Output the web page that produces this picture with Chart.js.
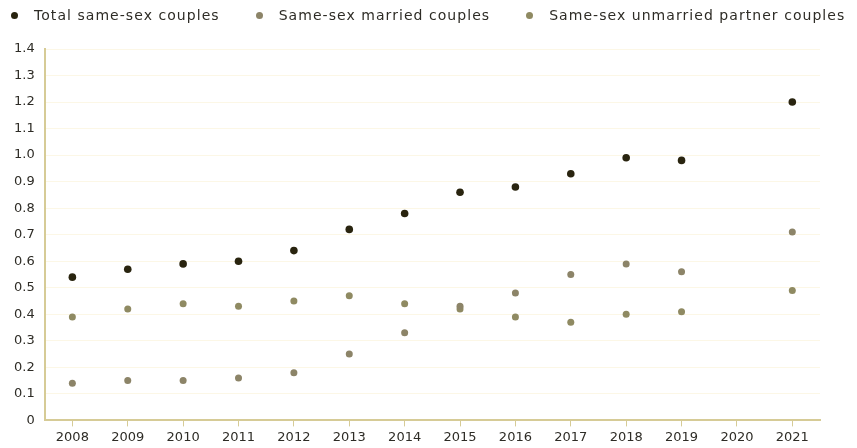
<!DOCTYPE html>
<html>
<head>
<meta charset="utf-8">
<script src="https://cdn.jsdelivr.net/npm/chart.js@4.4.1/dist/chart.umd.min.js"></script>
<style>
  html, body { margin: 0; padding: 0; background: #fff; }
  #wrap { position: relative; width: 857px; height: 448px; overflow: hidden; }
  #legend { position: absolute; left: 11px; top: 6px; width: 900px; display: flex; white-space: nowrap; font: 14px "DejaVu Sans", sans-serif; letter-spacing: 1.05px; color: #2e2c26; }
  #legend .item { display: flex; flex-shrink: 0; align-items: center; margin-right: 36px; height: 18px; }
  #legend .dot { width: 7px; height: 7px; border-radius: 50%; margin-right: 16px; }
</style>
</head>
<body>
<div id="wrap">
  <div id="legend"></div>
  <canvas id="couples"></canvas>
</div>
<script>
var years = ['2008', '2009', '2010', '2011', '2012', '2013', '2014', '2015', '2016', '2017', '2018', '2019', '2020', '2021'];
var totalCouples = [0.54, 0.57, 0.59, 0.60, 0.64, 0.72, 0.78, 0.86, 0.88, 0.93, 0.99, 0.98, null, 1.20];
var marriedCouples = [0.14, 0.15, 0.15, 0.16, 0.18, 0.25, 0.33, 0.43, 0.48, 0.55, 0.59, 0.56, null, 0.71];
var unmarriedCouples = [0.39, 0.42, 0.44, 0.43, 0.45, 0.47, 0.44, 0.42, 0.39, 0.37, 0.40, 0.41, null, 0.49];

var fontFamily = '"DejaVu Sans", sans-serif';
var textColor = '#2e2c26';
var axisColor = '#d6cb96';

function dots(label, values, color, radius) {
    return {
        label: label,
        data: values,
        showLine: false,
        backgroundColor: color,
        borderColor: color,
        pointRadius: radius,
        pointHoverRadius: radius,
        pointBorderWidth: 0
    };
}

var context = document.getElementById('couples').getContext('2d');
var chart = new Chart(context, {
    type: 'line',
    data: {
        labels: years,
        datasets: [
            dots('Total same-sex couples', totalCouples, '#29240f', 3.8),
            dots('Same-sex married couples', marriedCouples, '#8c8468', 3.5),
            dots('Same-sex unmarried partner couples', unmarriedCouples, '#8f8a62', 3.5)
        ]
    },
    options: {
        responsive: true,
        maintainAspectRatio: false,
        animation: false,
        layout: { padding: { left: 4, right: 37, top: 49, bottom: 0 } },
        plugins: {
            tooltip: { enabled: false },
            legend: { display: false }
        },
        scales: {
            x: {
                offset: true,
                grid: { display: true, drawOnChartArea: false, color: axisColor, tickLength: 6 },
                border: { color: axisColor, width: 2 },
                ticks: { color: textColor, font: { family: fontFamily, size: 13 }, maxRotation: 0, padding: 3 }
            },
            y: {
                min: 0,
                max: 1.4,
                grid: { color: '#fcf7e6', drawTicks: false },
                border: { color: axisColor, width: 2 },
                ticks: {
                    stepSize: 0.1,
                    color: textColor,
                    padding: 10,
                    font: { family: fontFamily, size: 13 },
                    callback: function(v) { return v === 0 ? '0' : v.toFixed(1); }
                }
            }
        }
    }
});

// legend drawn as html so the spacing can follow the original
var legend = document.getElementById('legend');
chart.data.datasets.forEach(function(ds) {
    var item = document.createElement('div');
    item.className = 'item';
    var dot = document.createElement('span');
    dot.className = 'dot';
    dot.style.background = ds.backgroundColor;
    var text = document.createElement('span');
    text.textContent = ds.label;
    item.appendChild(dot);
    item.appendChild(text);
    legend.appendChild(item);
});
</script>
</body>
</html>
